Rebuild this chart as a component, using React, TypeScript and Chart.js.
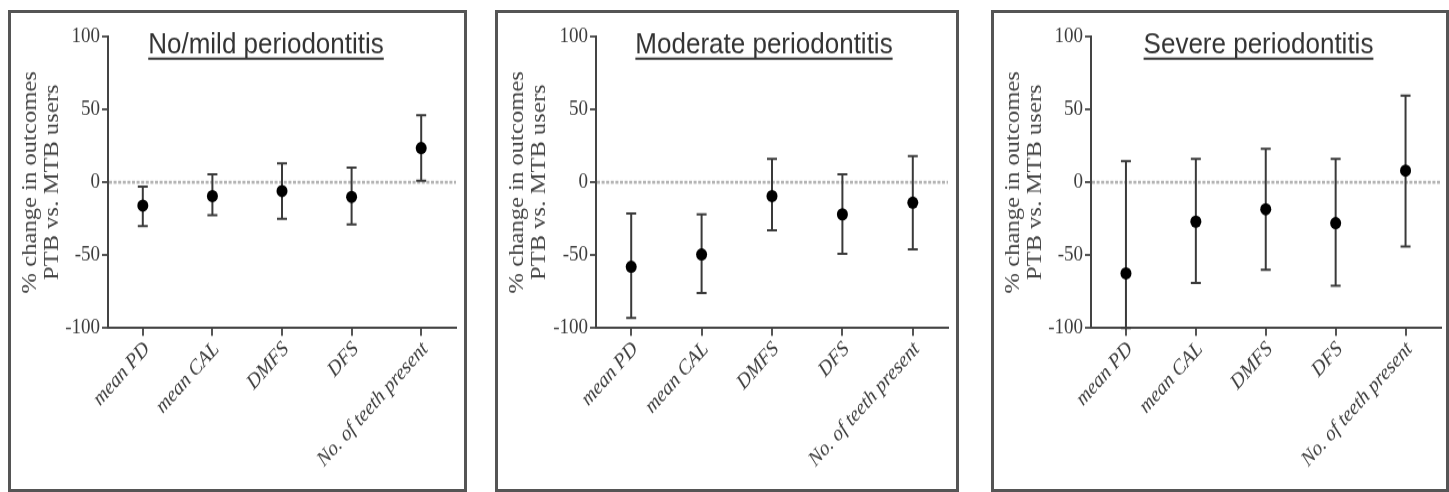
import React, { useEffect, useRef } from 'react';
import { Chart, registerables } from 'chart.js';

Chart.register(...registerables);

// ---------- data ----------
const categories = ['mean PD', 'mean CAL', 'DMFS', 'DFS', 'No. of teeth present'];
const yTickValues = [-100, -50, 0, 50, 100];
const yAxisTitle = ['% change in outcomes', 'PTB vs. MTB users'];

const panelTitles = ['No/mild periodontitis', 'Moderate periodontitis', 'Severe periodontitis'];

const noMildMean = [-16, -9.5, -6, -10, 23.5];
const noMildLow = [-30, -22.5, -25, -29, 1];
const noMildHigh = [-3, 5.5, 13, 10, 46];

const moderateMean = [-58, -49.5, -9.5, -22, -14];
const moderateLow = [-93, -76, -33, -49, -46];
const moderateHigh = [-21.5, -22, 16, 5.5, 18];

const severeMean = [-62.5, -27, -18.5, -28, 8];
const severeLow = [-100, -69, -60, -71, -44];
const severeHigh = [14.5, 16, 23, 16, 59.5];

// ---------- layout (page pixels) ----------
const S = 1.12; // vertical stretch of the original figure
const CANVAS_TOP = 13;
const AREA_TOP = 36.5;
const AREA_BOTTOM = 328;
const CANVAS_H = 421;

type Spec = {
  title: string;
  mean: number[];
  low: number[];
  high: number[];
  boxLeft: number;
  boxRight: number;
  axisX: number;
  areaRight: number;
  titleCenter: number;
};

const specs: Spec[] = [
  { title: panelTitles[0], mean: noMildMean, low: noMildLow, high: noMildHigh, boxLeft: 8, boxRight: 467, axisX: 108, areaRight: 456, titleCenter: 266 },
  { title: panelTitles[1], mean: moderateMean, low: moderateLow, high: moderateHigh, boxLeft: 495, boxRight: 959, axisX: 596, areaRight: 948, titleCenter: 764 },
  { title: panelTitles[2], mean: severeMean, low: severeLow, high: severeHigh, boxLeft: 991, boxRight: 1449, axisX: 1091, areaRight: 1441, titleCenter: 1258.5 },
];

function Panel({ spec }: { spec: Spec }) {
  const ref = useRef<HTMLCanvasElement | null>(null);
  const canvasLeft = spec.boxLeft + 3;
  const canvasW = spec.boxRight - spec.boxLeft - 6;

  useEffect(() => {
    if (!ref.current) return;
    const leftC = spec.axisX - canvasLeft;
    const rightC = spec.areaRight - canvasLeft;
    const topC = (AREA_TOP - CANVAS_TOP) / S;
    const bottomC = (AREA_BOTTOM - CANVAS_TOP) / S;
    const titleCx = spec.titleCenter - canvasLeft;

    const decor = {
      id: 'decor' + spec.title,
      beforeDatasetsDraw(chart: any) {
        const { ctx, chartArea, scales } = chart;
        const x = scales.x;
        const y = scales.y;
        ctx.save();
        // zero reference line
        const y0 = y.getPixelForValue(0);
        ctx.strokeStyle = '#b4b4b4';
        ctx.lineWidth = 2.6;
        ctx.setLineDash([3, 1.6]);
        ctx.beginPath();
        ctx.moveTo(chartArea.left + 1, y0);
        ctx.lineTo(chartArea.right, y0);
        ctx.stroke();
        ctx.setLineDash([]);
        // error bars
        ctx.strokeStyle = '#3a3a3a';
        ctx.lineWidth = 2;
        for (let i = 0; i < spec.mean.length; i++) {
          const px = x.getPixelForValue(i);
          const yl = y.getPixelForValue(spec.low[i]);
          const yh = y.getPixelForValue(spec.high[i]);
          ctx.beginPath();
          ctx.moveTo(px, yl);
          ctx.lineTo(px, yh);
          ctx.moveTo(px - 5, yl);
          ctx.lineTo(px + 5, yl);
          ctx.moveTo(px - 5, yh);
          ctx.lineTo(px + 5, yh);
          ctx.stroke();
        }
        ctx.restore();
      },
      afterDraw(chart: any) {
        const { ctx } = chart;
        ctx.save();
        ctx.font = '26px "Liberation Sans", Arial, sans-serif';
        ctx.fillStyle = '#333';
        ctx.textAlign = 'center';
        ctx.textBaseline = 'alphabetic';
        const baseline = (53 - CANVAS_TOP) / S;
        ctx.fillText(spec.title, titleCx, baseline);
        const w = ctx.measureText(spec.title).width;
        ctx.fillRect(titleCx - w / 2, (57.5 - CANVAS_TOP) / S, w, 2);
        ctx.restore();
      },
    };

    const chart = new Chart(ref.current, {
      type: 'line',
      data: {
        labels: categories,
        datasets: [
          {
            data: spec.mean,
            showLine: false,
            pointRadius: 5.5,
            pointHoverRadius: 5.5,
            pointBackgroundColor: '#000',
            pointBorderColor: '#000',
            pointBorderWidth: 0,
          },
        ],
      },
      options: {
        animation: false,
        responsive: true,
        maintainAspectRatio: false,
        events: [],
        layout: { padding: { left: 0, top: topC, right: canvasW - rightC, bottom: 0 } },
        plugins: { legend: { display: false }, tooltip: { enabled: false }, title: { display: false } },
        scales: {
          x: {
            type: 'category',
            offset: true,
            afterFit: (s: any) => {
              s.height = CANVAS_H - bottomC;
            },
            grid: { display: true, drawOnChartArea: false, drawTicks: true, tickLength: 7, color: '#555', lineWidth: 2 },
            border: { display: true, color: '#444', width: 2 },
            ticks: {
              autoSkip: false,
              minRotation: 45,
              maxRotation: 45,
              padding: 1,
              labelOffset: 4,
              color: '#3c3c3c',
              font: { family: '"Liberation Serif", serif', style: 'italic', size: 19 },
            },
          },
          y: {
            min: -100,
            max: 100,
            afterFit: (s: any) => {
              s.width = leftC;
            },
            afterBuildTicks: (s: any) => {
              s.ticks = yTickValues.map((v) => ({ value: v }));
            },
            grid: { display: true, drawOnChartArea: false, drawTicks: true, tickLength: 6, color: '#555', lineWidth: 2 },
            border: { display: true, color: '#444', width: 2 },
            ticks: {
              padding: 2,
              color: '#3c3c3c',
              font: { family: '"Liberation Serif", serif', size: 19 },
            },
            title: {
              display: true,
              text: yAxisTitle,
              color: '#444',
              font: { family: '"Liberation Serif", serif', size: 22, lineHeight: 1.0 },
              padding: { top: 8, bottom: 0 },
            },
          },
        },
      },
      plugins: [decor],
    } as any);
    return () => chart.destroy();
  }, []);

  return (
    <>
      <div
        style={{
          position: 'absolute',
          left: spec.boxLeft,
          top: 10,
          width: spec.boxRight - spec.boxLeft,
          height: 482,
          border: '3px solid #555',
          boxSizing: 'border-box',
        }}
      />
      <div
        style={{
          position: 'absolute',
          left: canvasLeft,
          top: CANVAS_TOP,
          width: canvasW,
          height: CANVAS_H,
          transform: `scaleY(${S})`,
          transformOrigin: 'top left',
        }}
      >
        <canvas ref={ref} />
      </div>
    </>
  );
}

export default function App() {
  return (
    <div
      style={{
        position: 'absolute',
        left: 0,
        top: 0,
        width: 1449,
        height: 492,
        overflow: 'hidden',
        background: '#fff',
      }}
    >
      {specs.map((s) => (
        <Panel key={s.title} spec={s} />
      ))}
    </div>
  );
}
